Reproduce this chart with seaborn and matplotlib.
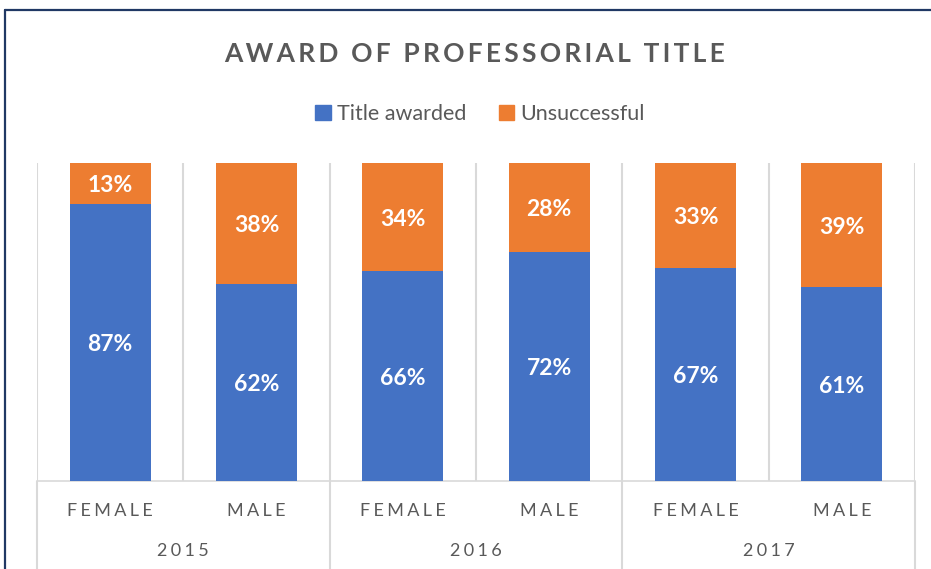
import matplotlib
matplotlib.use("Agg")
import matplotlib.pyplot as plt
import matplotlib.transforms as mtransforms
from matplotlib.lines import Line2D
from matplotlib.patches import Patch
import seaborn as sns
import pandas as pd

years = ["2015", "2015", "2016", "2016", "2017", "2017"]
genders = ["FEMALE", "MALE", "FEMALE", "MALE", "FEMALE", "MALE"]
awarded = [87, 62, 66, 72, 67, 61]
unsuccessful = [13, 38, 34, 28, 33, 39]
series = ["Title awarded", "Unsuccessful"]

blue = "#4472C4"
orange = "#ED7D31"
grid_c = "#D9D9D9"
text_c = "#595959"


def spaced(s, sep="\u2009"):
    return sep.join(s)


sns.set_style("white")
plt.rcParams["font.family"] = ["Lato", "DejaVu Sans"]

df = pd.DataFrame({
    "slot": [f"{y} {g}" for y, g in zip(years, genders)],
    "awarded": awarded,
    "total": [a + u for a, u in zip(awarded, unsuccessful)],
})

fig = plt.figure(figsize=(9.31, 5.69), dpi=100)
ax = fig.add_axes([37 / 931, 1 - 481 / 569, 878 / 931, 318 / 569])

# stacked: full bar in orange, awarded part in blue on top of it
sns.barplot(data=df, x="slot", y="total", color=orange, width=0.555,
            saturation=1, linewidth=0, ax=ax, zorder=3)
sns.barplot(data=df, x="slot", y="awarded", color=blue, width=0.555,
            saturation=1, linewidth=0, ax=ax, zorder=4)

ax.set_xlim(-0.5, 5.5)
ax.set_ylim(0, 100)
ax.set_xlabel("")
ax.set_ylabel("")
ax.set_yticks([])
for s in ["left", "right", "top"]:
    ax.spines[s].set_visible(False)
ax.spines["bottom"].set_color(grid_c)
ax.spines["bottom"].set_linewidth(1.2)

# vertical gridlines between bars
n = len(awarded)
ax.vlines([i - 0.5 for i in range(n + 1)], 0, 100, color=grid_c, lw=1.5, zorder=1)

# group separators extending below the axis
trans = mtransforms.blended_transform_factory(ax.transData, ax.transAxes)
ax.vlines([i - 0.5 for i in range(0, n + 1, 2)], -0.35, 0, color=grid_c,
          lw=1.5, transform=trans, clip_on=False)

ax.set_xticks(range(n))
ax.set_xticklabels([spaced(g, "\u2009\u200a") for g in genders], color=text_c, fontsize=13)
ax.tick_params(axis="x", length=0, pad=16)

uniq_years = sorted(set(years))
for y in uniq_years:
    idx = [i for i, yy in enumerate(years) if yy == y]
    ax.text(sum(idx) / len(idx), -0.219, spaced(y, "\u2009\u200a"), transform=trans,
            ha="center", va="center", color=text_c, fontsize=13)

# data labels
for i in range(n):
    ax.text(i, awarded[i] / 2, f"{awarded[i]}%", ha="center", va="center_baseline",
            color="white", fontsize=16.5, fontweight="bold", zorder=5)
    ax.text(i, awarded[i] + unsuccessful[i] / 2, f"{unsuccessful[i]}%",
            ha="center", va="center_baseline", color="white", fontsize=16.5,
            fontweight="bold", zorder=5)

fig.text(475 / 931, 1 - 54 / 569, "  ".join(spaced(w) for w in "AWARD OF PROFESSORIAL TITLE".split()),
         ha="center", va="center", fontsize=19, fontweight="bold", color=text_c)

handles = [Patch(color=blue), Patch(color=orange)]
fig.legend(handles, series, loc="center", bbox_to_anchor=(480 / 931, 1 - 114 / 569),
           ncol=2, frameon=False, fontsize=15.5, handlelength=0.7, handleheight=0.7,
           handletextpad=0.3, columnspacing=1.5, labelcolor=text_c)

# outer chart frame (left and top edges visible)
fig.add_artist(Line2D([4.5 / 931, 4.5 / 931], [0, 1 - 10 / 569], color="#203864", lw=1.6))
fig.add_artist(Line2D([4.5 / 931, 1], [1 - 10 / 569, 1 - 10 / 569], color="#203864", lw=1.6))

fig.savefig("out.png", dpi=100)
